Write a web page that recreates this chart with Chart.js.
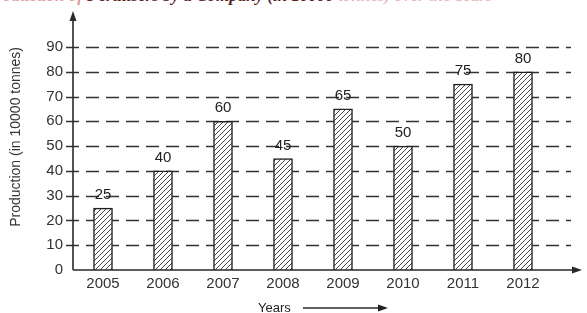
<!DOCTYPE html>
<html>
<head>
<meta charset="utf-8">
<script src="https://cdn.jsdelivr.net/npm/chart.js@4.4.1/dist/chart.umd.min.js"></script>
<style>
  html, body { margin: 0; padding: 0; background: #fff; }
  #wrap { position: relative; width: 587px; height: 313px; overflow: hidden; background: #fff; }
  #topTitle { position: absolute; left: -14px; top: -14px; white-space: nowrap;
    font: italic bold 17px "Liberation Serif", serif; line-height: 20px; }
  #chartArea { position: absolute; left: 0; top: 0; }
</style>
</head>
<body>
<div id="wrap">
  <div id="topTitle"><span style="color:#e0a0a0">Production of </span><span style="color:#5a1f1f">Fertilisers by a Company (in 10000</span><span style="color:#e8b8b8"> tonnes) over the Years</span></div>
  <canvas id="chartArea" width="587" height="313"></canvas>
</div>
<script>
// data
const years = ['2005', '2006', '2007', '2008', '2009', '2010', '2011', '2012']
const production = [25, 40, 60, 45, 65, 50, 75, 80]
const yTicks = [0, 10, 20, 30, 40, 50, 60, 70, 80, 90]

const ink = '#2a2a2a'
const font = '"Liberation Sans", Arial, sans-serif'

// diagonal hatch for the bars
function makeHatch(){
  const c = document.createElement('canvas')
  c.width = 5; c.height = 5
  const g = c.getContext('2d')
  g.fillStyle = '#fff'
  g.fillRect(0, 0, 5, 5)
  g.strokeStyle = '#444'
  g.lineWidth = 1
  g.beginPath()
  g.moveTo(-1, 6); g.lineTo(6, -1)
  g.moveTo(-1, 1); g.lineTo(1, -1)
  g.moveTo(4, 6); g.lineTo(6, 4)
  g.stroke()
  return g.createPattern(c, 'repeat')
}

function arrowHead(ctx, x, y, dir){
  ctx.beginPath()
  if(dir == 'up'){
    ctx.moveTo(x, y); ctx.lineTo(x - 3.5, y + 10); ctx.lineTo(x + 3.5, y + 10)
  } else {
    ctx.moveTo(x, y); ctx.lineTo(x - 10, y - 3.5); ctx.lineTo(x - 10, y + 3.5)
  }
  ctx.closePath()
  ctx.fill()
}

const decor = {
  id: 'decor',
  beforeDatasetsDraw(chart){
    const ctx = chart.ctx
    const y = chart.scales.y
    const area = chart.chartArea
    ctx.save()
    ctx.strokeStyle = '#333'
    ctx.lineWidth = 1.7
    ctx.setLineDash([13, 7])
    y.ticks.forEach(t => {
      if(t.value <= 0) return
      const py = Math.round(y.getPixelForValue(t.value)) + 0.5
      ctx.beginPath()
      ctx.moveTo(area.left - 7, py)
      ctx.lineTo(571, py)
      ctx.stroke()
    })
    ctx.restore()
  },
  afterDatasetsDraw(chart){
    const ctx = chart.ctx
    const area = chart.chartArea
    ctx.save()
    // axes with arrows
    ctx.strokeStyle = ink
    ctx.fillStyle = ink
    ctx.lineWidth = 1.6
    ctx.beginPath()
    ctx.moveTo(area.left, area.bottom)
    ctx.lineTo(area.left, 18)
    ctx.moveTo(area.left, area.bottom)
    ctx.lineTo(575, area.bottom)
    ctx.stroke()
    arrowHead(ctx, area.left, 11, 'up')
    arrowHead(ctx, 582, area.bottom, 'right')

    // value labels on top of bars
    const meta = chart.getDatasetMeta(0)
    ctx.font = '15px ' + font
    ctx.textAlign = 'center'
    ctx.textBaseline = 'middle'
    ctx.fillStyle = '#222'
    meta.data.forEach((bar, i) => {
      ctx.fillText(String(production[i]), bar.x, bar.y - 13)
    })

    // x axis caption with its arrow
    ctx.font = '13px ' + font
    ctx.textAlign = 'left'
    ctx.fillText('Years', 258, 308)
    ctx.lineWidth = 1.3
    ctx.beginPath()
    ctx.moveTo(303, 308)
    ctx.lineTo(380, 308)
    ctx.stroke()
    arrowHead(ctx, 388, 308, 'right')
    ctx.restore()
  }
}

new Chart(document.getElementById('chartArea'), {
  type: 'bar',
  data: {
    labels: years,
    datasets: [{
      data: production,
      backgroundColor: makeHatch(),
      borderColor: '#222',
      borderWidth: 1.5,
      barThickness: 19
    }]
  },
  options: {
    responsive: false,
    devicePixelRatio: 1,
    animation: false,
    layout: { padding: { top: 47, right: 34, left: 0, bottom: 0 } },
    plugins: {
      legend: { display: false },
      tooltip: { enabled: false },
      title: { display: false }
    },
    scales: {
      x: {
        grid: { display: false, drawTicks: false },
        border: { display: false },
        ticks: {
          color: '#333',
          padding: 5,
          maxRotation: 0,
          font: { family: font, size: 15 }
        },
        afterFit: s => { s.height = 43 }
      },
      y: {
        min: 0,
        max: 90,
        afterBuildTicks: s => { s.ticks = yTicks.map(v => ({ value: v })) },
        grid: { display: false, drawTicks: false },
        border: { display: false },
        ticks: {
          color: '#333',
          padding: 10,
          font: { family: font, size: 15 }
        },
        title: {
          display: true,
          text: 'Production (in 10000 tonnes)',
          align: 'end',
          color: '#333',
          padding: { top: 8, bottom: 0 },
          font: { family: font, size: 14 }
        },
        afterFit: s => { s.width = 73 }
      }
    }
  },
  plugins: [decor]
})
</script>
</body>
</html>
